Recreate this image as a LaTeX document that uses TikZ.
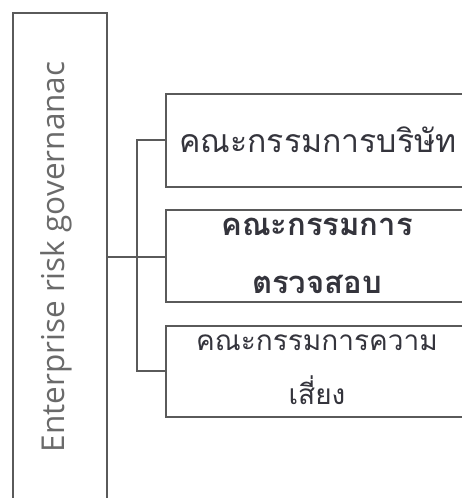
\documentclass[tikz,border=0pt]{standalone}
\usepackage{fontspec}
\setmainfont{Open Sans}
\newfontfamily\thaifont[Script=Thai]{Loma}
\definecolor{linegray}{HTML}{5A5A5A}
\definecolor{txtgray}{HTML}{6A6A6A}
\definecolor{thaitext}{HTML}{34343C}
\begin{document}
\begin{tikzpicture}[x=1pt,y=-1pt,
  boxstyle/.style={draw=linegray,line width=1.3pt,rectangle,inner sep=0pt},
  conn/.style={draw=linegray,line width=1.1pt},
  thaistyle/.style={text=thaitext,align=center}]
\useasboundingbox (0,0) rectangle (462,498);
\clip (0,0) rectangle (462,498);
\fill[white] (0,0) rectangle (462,498);
% left box
\node[boxstyle,minimum width=94pt,minimum height=488pt] (erg) at (60,257) {};
\node[rotate=90,text=txtgray,font=\fontsize{31.5}{36}\selectfont] (ergtxt) at (56,257) {Enterprise risk governanac};
% right boxes
\node[boxstyle,minimum width=304pt,minimum height=93pt] (b1) at (318,140.5) {};
\node[thaistyle,font=\thaifont\fontsize{32}{38}\selectfont] (t1) at (318,140) {คณะกรรมการบริษัท};
\node[boxstyle,minimum width=304pt,minimum height=92pt] (b2) at (318,256) {};
\node[thaistyle,font=\thaifont\bfseries\fontsize{31}{58}\selectfont] (t2) at (317,256) {คณะกรรมการ\\ตรวจสอบ};
\node[boxstyle,minimum width=304pt,minimum height=91pt] (b3) at (318,371.5) {};
\node[thaistyle,font=\thaifont\fontsize{28}{54}\selectfont] (t3) at (317,370) {คณะกรรมการความ\\เสี่ยง};
% connectors
\coordinate (jn) at (137,257);
\draw[conn] (erg.east |- jn) -- (b2.west |- jn);
\draw[conn] (b1.west |- 0,140) -- (137,140) -- (137,371) -- (b3.west |- 0,371);
\end{tikzpicture}
\end{document}
